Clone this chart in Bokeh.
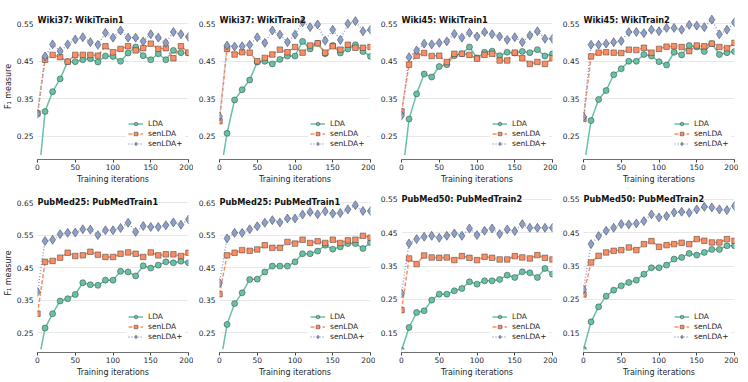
from bokeh.plotting import figure
from bokeh.models import FixedTicker, Label, BoxAnnotation, Range1d
from bokeh.layouts import row, column
from bokeh.embed import file_html
from bokeh.resources import INLINE

iterations = list(range(0, 201, 10))

titles = ["Wiki37: WikiTrain1", "Wiki37: WikiTrain2", "Wiki45: WikiTrain1", "Wiki45: WikiTrain2",
          "PubMed25: PubMedTrain1", "PubMed25: PubMedTrain1", "PubMed50: PubMedTrain2", "PubMed50: PubMedTrain2"]

# ---- Wiki37: WikiTrain1
lda_1 = [0.105, 0.316, 0.369, 0.403, 0.449, 0.449, 0.454, 0.457, 0.448, 0.464, 0.463,
         0.450, 0.472, 0.488, 0.465, 0.454, 0.470, 0.454, 0.479, 0.473, 0.472]
sen_1 = [0.311, 0.454, 0.467, 0.461, 0.449, 0.467, 0.467, 0.467, 0.465, 0.490, 0.474,
         0.483, 0.490, 0.479, 0.485, 0.497, 0.483, 0.485, 0.458, 0.490, 0.473]
senp_1 = [0.310, 0.463, 0.495, 0.477, 0.495, 0.508, 0.514, 0.501, 0.494, 0.526, 0.513,
          0.532, 0.513, 0.513, 0.503, 0.522, 0.513, 0.499, 0.528, 0.522, 0.515]
# ---- Wiki37: WikiTrain2
lda_2 = [0.135, 0.258, 0.347, 0.374, 0.400, 0.448, 0.450, 0.443, 0.455, 0.464, 0.464,
         0.503, 0.483, 0.498, 0.470, 0.492, 0.472, 0.483, 0.494, 0.476, 0.463]
sen_2 = [0.290, 0.483, 0.468, 0.474, 0.473, 0.450, 0.459, 0.468, 0.481, 0.474, 0.488,
         0.473, 0.492, 0.498, 0.473, 0.490, 0.481, 0.494, 0.486, 0.486, 0.488]
senp_2 = [0.303, 0.492, 0.489, 0.490, 0.494, 0.514, 0.499, 0.532, 0.521, 0.501, 0.521,
          0.554, 0.541, 0.548, 0.505, 0.534, 0.507, 0.550, 0.557, 0.530, 0.534]
# ---- Wiki45: WikiTrain1
lda_3 = [0.125, 0.296, 0.363, 0.416, 0.408, 0.436, 0.441, 0.465, 0.470, 0.488, 0.459,
         0.474, 0.477, 0.465, 0.474, 0.472, 0.476, 0.473, 0.481, 0.464, 0.470]
sen_3 = [0.316, 0.441, 0.465, 0.472, 0.464, 0.465, 0.448, 0.470, 0.470, 0.467, 0.457,
         0.467, 0.470, 0.452, 0.452, 0.473, 0.458, 0.443, 0.448, 0.443, 0.458]
senp_3 = [0.305, 0.461, 0.479, 0.497, 0.495, 0.499, 0.503, 0.523, 0.513, 0.526, 0.516,
          0.528, 0.522, 0.516, 0.507, 0.514, 0.501, 0.519, 0.530, 0.510, 0.510]
# ---- Wiki45: WikiTrain2
lda_4 = [0.160, 0.292, 0.348, 0.372, 0.414, 0.430, 0.450, 0.450, 0.468, 0.464, 0.449,
         0.440, 0.474, 0.467, 0.492, 0.488, 0.476, 0.497, 0.468, 0.473, 0.476]
sen_4 = [0.296, 0.463, 0.473, 0.474, 0.473, 0.472, 0.481, 0.480, 0.486, 0.473, 0.483,
         0.489, 0.490, 0.488, 0.477, 0.492, 0.490, 0.497, 0.488, 0.485, 0.499]
senp_4 = [0.302, 0.494, 0.494, 0.497, 0.501, 0.504, 0.528, 0.528, 0.525, 0.534, 0.530,
          0.539, 0.539, 0.534, 0.547, 0.545, 0.541, 0.561, 0.522, 0.534, 0.554]
# ---- PubMed25: PubMedTrain1 (a)
lda_5 = [0.147, 0.265, 0.309, 0.348, 0.355, 0.368, 0.404, 0.398, 0.396, 0.412, 0.412,
         0.439, 0.437, 0.425, 0.456, 0.449, 0.458, 0.468, 0.465, 0.470, 0.465]
sen_5 = [0.309, 0.468, 0.471, 0.481, 0.496, 0.486, 0.488, 0.499, 0.490, 0.483, 0.483,
         0.493, 0.497, 0.493, 0.483, 0.497, 0.488, 0.491, 0.491, 0.486, 0.496]
senp_5 = [0.376, 0.532, 0.536, 0.553, 0.557, 0.558, 0.568, 0.567, 0.550, 0.565, 0.565,
          0.572, 0.588, 0.560, 0.578, 0.575, 0.575, 0.580, 0.589, 0.582, 0.598]
# ---- PubMed25: PubMedTrain1 (b)
lda_6 = [0.140, 0.276, 0.340, 0.373, 0.414, 0.415, 0.437, 0.455, 0.455, 0.455, 0.468,
         0.493, 0.493, 0.501, 0.519, 0.507, 0.514, 0.524, 0.524, 0.509, 0.527]
sen_6 = [0.369, 0.488, 0.496, 0.504, 0.502, 0.506, 0.519, 0.511, 0.511, 0.529, 0.524,
         0.536, 0.526, 0.531, 0.526, 0.536, 0.526, 0.534, 0.536, 0.548, 0.542]
senp_6 = [0.403, 0.540, 0.557, 0.557, 0.568, 0.577, 0.588, 0.596, 0.589, 0.601, 0.601,
          0.613, 0.621, 0.614, 0.623, 0.616, 0.618, 0.629, 0.642, 0.624, 0.624]
# ---- PubMed50: PubMedTrain2 (a)
lda_7 = [0.097, 0.166, 0.211, 0.216, 0.248, 0.266, 0.266, 0.276, 0.283, 0.303, 0.296,
         0.306, 0.306, 0.310, 0.323, 0.316, 0.333, 0.330, 0.316, 0.343, 0.326]
sen_7 = [0.218, 0.373, 0.356, 0.382, 0.376, 0.375, 0.376, 0.368, 0.380, 0.375, 0.368,
         0.378, 0.375, 0.370, 0.370, 0.380, 0.376, 0.373, 0.383, 0.375, 0.370]
senp_7 = [0.268, 0.418, 0.431, 0.438, 0.441, 0.435, 0.441, 0.448, 0.441, 0.463, 0.443,
          0.456, 0.463, 0.446, 0.460, 0.455, 0.476, 0.465, 0.465, 0.465, 0.465]
# ---- PubMed50: PubMedTrain2 (b)
lda_8 = [0.100, 0.183, 0.228, 0.260, 0.278, 0.291, 0.301, 0.308, 0.326, 0.345, 0.345,
         0.353, 0.371, 0.376, 0.388, 0.383, 0.391, 0.400, 0.400, 0.411, 0.411]
sen_8 = [0.265, 0.361, 0.381, 0.391, 0.396, 0.398, 0.406, 0.398, 0.416, 0.425, 0.408,
         0.413, 0.416, 0.420, 0.416, 0.431, 0.426, 0.421, 0.421, 0.431, 0.426]
senp_8 = [0.280, 0.416, 0.440, 0.456, 0.465, 0.476, 0.475, 0.478, 0.485, 0.505, 0.496,
          0.500, 0.511, 0.513, 0.510, 0.520, 0.528, 0.526, 0.520, 0.518, 0.530]

x_ticks = [0, 50, 100, 150, 200]
y_ticks_wiki = [0.25, 0.35, 0.45, 0.55]
y_ticks_pm25 = [0.25, 0.35, 0.45, 0.55, 0.65]
y_ticks_pm50 = [0.15, 0.25, 0.35, 0.45, 0.55]
series_names = ["LDA", "senLDA", "senLDA+"]

FONT = "DejaVu Sans"
TXT = "#262626"
C_LDA, C_SEN, C_SENP = "#66c2a5", "#fc8d62", "#8da0cb"
EDGE = "#3a3a3a"

TOP_FH, BOT_FH = 146, 159
panels = [
    (titles[0], lda_1, sen_1, senp_1, (0.188, 0.188 + TOP_FH / 375), y_ticks_wiki, 0.2, 0.559),
    (titles[1], lda_2, sen_2, senp_2, (0.188, 0.188 + TOP_FH / 375), y_ticks_wiki, 0.2, 0.559),
    (titles[2], lda_3, sen_3, senp_3, (0.188, 0.188 + TOP_FH / 375), y_ticks_wiki, 0.2, 0.559),
    (titles[3], lda_4, sen_4, senp_4, (0.188, 0.188 + TOP_FH / 375), y_ticks_wiki, 0.2, 0.559),
    (titles[4], lda_5, sen_5, senp_5, (0.19, 0.19 + BOT_FH / 326), y_ticks_pm25, 0.2, 0.652),
    (titles[5], lda_6, sen_6, senp_6, (0.19, 0.19 + BOT_FH / 326), y_ticks_pm25, 0.2, 0.652),
    (titles[6], lda_7, sen_7, senp_7, (0.091, 0.091 + BOT_FH / 333.5), y_ticks_pm50, 0.1, 0.5515),
    (titles[7], lda_8, sen_8, senp_8, (0.091, 0.091 + BOT_FH / 333.5), y_ticks_pm50, 0.1, 0.5515),
]


def make_panel(i, spec):
    title, lda, sen, senp, yr, yticks, mask_top, title_y = spec
    top_row = i < 4
    col = i % 4
    p = figure(frame_width=151, frame_height=TOP_FH if top_row else BOT_FH,
               x_range=Range1d(0, 200), y_range=Range1d(*yr),
               output_backend="svg", toolbar_location=None,
               min_border=0,
               min_border_left=31 if col == 0 else 26,
               min_border_right=4 if col == 3 else 5,
               min_border_top=13 if top_row else 7, min_border_bottom=0,
               background_fill_color="white", border_fill_color="white")
    p.outline_line_alpha = 0
    p.xgrid.visible = False
    p.ygrid.grid_line_color = "#e8e8e8"
    p.ygrid.grid_line_width = 1
    p.ygrid.ticker = FixedTicker(ticks=yticks)

    p.xaxis.ticker = FixedTicker(ticks=x_ticks)
    p.xaxis.axis_label = "Training iterations"
    p.xaxis.axis_label_text_font = FONT
    p.xaxis.axis_label_text_font_size = "8px"
    p.xaxis.axis_label_text_font_style = "normal"
    p.xaxis.axis_label_text_color = TXT
    p.xaxis.axis_label_standoff = 2
    p.xaxis.major_label_text_font = FONT
    p.xaxis.major_label_text_font_size = "7.5px"
    p.xaxis.major_label_text_color = TXT
    p.xaxis.major_label_standoff = 1
    p.xaxis.major_tick_out = 3
    p.xaxis.major_tick_in = 0
    p.xaxis.minor_tick_line_alpha = 0
    p.xaxis.axis_line_color = "#404040"
    p.xaxis.major_tick_line_color = "#404040"

    p.yaxis.ticker = FixedTicker(ticks=yticks)
    p.yaxis.axis_line_alpha = 0
    p.yaxis.major_tick_line_alpha = 0
    p.yaxis.minor_tick_line_alpha = 0
    p.yaxis.major_tick_out = 0
    p.yaxis.major_label_text_font = FONT
    p.yaxis.major_label_text_font_size = "7.5px"
    p.yaxis.major_label_text_color = TXT
    p.yaxis.major_label_standoff = 4
    if col == 0:
        p.yaxis.axis_label = "F\u2081 measure"
        p.yaxis.axis_label_text_font = FONT
        p.yaxis.axis_label_text_font_size = "8px"
        p.yaxis.axis_label_text_font_style = "normal"
        p.yaxis.axis_label_text_color = TXT
        p.yaxis.axis_label_standoff = 1

    # lines
    p.line(iterations, lda, line_color=C_LDA, line_width=1.5, legend_label=series_names[0])
    p.line(iterations, sen, line_color=C_SEN, line_width=1.5, line_dash="4 2", legend_label=series_names[1])
    p.line(iterations, senp, line_color=C_SENP, line_width=1.5, line_dash="1 2", legend_label=series_names[2])
    # markers
    p.scatter(iterations, lda, marker="circle", size=6, fill_color=C_LDA, line_color=EDGE,
              line_width=0.5, legend_label=series_names[0])
    p.scatter(iterations, sen, marker="square", size=5.5, fill_color=C_SEN, line_color=EDGE,
              line_width=0.5, legend_label=series_names[1])
    p.scatter(iterations, senp, marker="diamond", size=9, fill_color=C_SENP, line_color=EDGE,
              line_width=0.5, legend_label=series_names[2])

    # hide what falls below the lower axis limit (axis is offset below it)
    p.add_layout(BoxAnnotation(top=mask_top, fill_color="white", fill_alpha=1.0, line_alpha=0))

    lg = p.legend[0]
    lg.location = (89, 9)
    lg.border_line_alpha = 0
    lg.background_fill_color = "white"
    lg.background_fill_alpha = 1.0
    lg.padding = 2
    lg.margin = 0
    lg.spacing = 1
    lg.glyph_width = 15
    lg.glyph_height = 9
    lg.label_height = 9
    lg.label_standoff = 5
    lg.label_text_font = FONT
    lg.label_text_font_size = "7.5px"
    lg.label_text_color = TXT

    p.add_layout(Label(x=0, y=title_y, text=title, text_font=FONT, text_font_size="8.2px",
                       text_font_style="bold", text_color="#111111", text_baseline="alphabetic"))
    return p


figs = [make_panel(i, s) for i, s in enumerate(panels)]
layout = column(row(*figs[:4]), row(*figs[4:]))

open("out.html", "w").write(file_html(layout, INLINE))
